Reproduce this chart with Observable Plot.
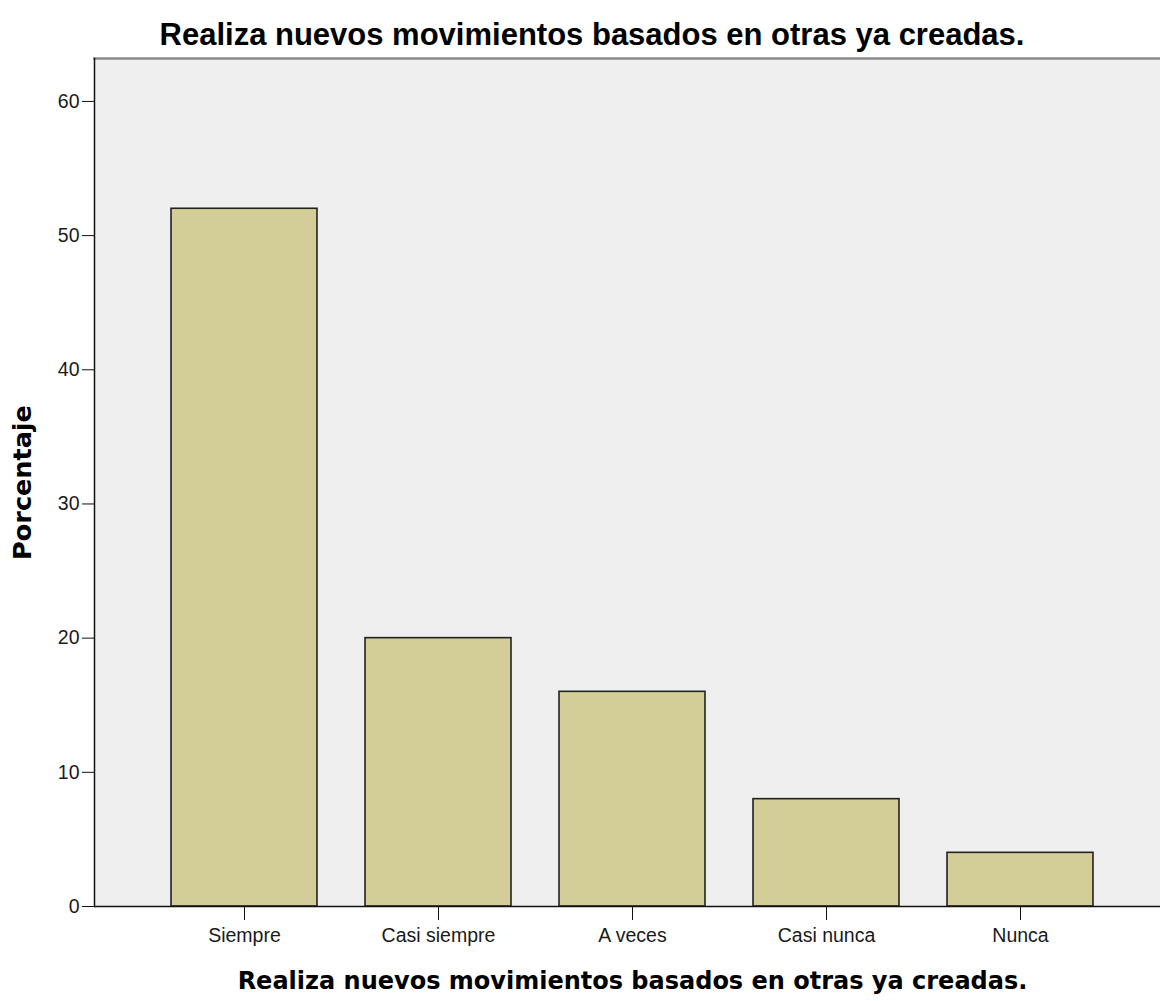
<!DOCTYPE html>
<html>
<head>
<meta charset="utf-8">
<script src="https://cdn.jsdelivr.net/npm/d3@7"></script>
<script src="https://cdn.jsdelivr.net/npm/@observablehq/plot@0.6"></script>
<style>
  html, body { margin: 0; padding: 0; background: #fff; }
  #title {
    height: 56px; width: 1160px; box-sizing: border-box;
    padding-left: 24px; text-align: center;
    font-family: "Liberation Sans", Arial, sans-serif; font-weight: bold;
    font-size: 31px; line-height: 70px; color: #000;
  }
  svg { display: block; }
</style>
</head>
<body>
<div id="title">Realiza nuevos movimientos basados en otras ya creadas.</div>
<div id="chart"></div>
<script>
const categories = ["Siempre", "Casi siempre", "A veces", "Casi nunca", "Nunca"];
const percentages = [52, 20, 16, 8, 4];
const yTicks = [0, 10, 20, 30, 40, 50, 60];
const xLabel = "Realiza nuevos movimientos basados en otras ya creadas.";
const yLabel = "Porcentaje";

const data = categories.map((c, i) => ({cat: c, pct: percentages[i]}));

const chart = Plot.plot({
  width: 1160,
  height: 945,
  marginTop: 2,
  marginBottom: 95,
  marginLeft: 94,
  marginRight: 0,
  style: {fontFamily: "'Liberation Sans', Arial, sans-serif", color: "#1a1a1a", background: "transparent"},
  x: {domain: categories, range: [147, 1117], paddingInner: 0.247, paddingOuter: 0.1235, label: null},
  y: {domain: [0, 63.2], label: null},
  marks: [
    Plot.frame({fill: "#efefef", stroke: null}),
    Plot.frame({anchor: "top", stroke: "#8a8a8a", strokeWidth: 2.5}),
    Plot.barY(data, {x: "cat", y: "pct", fill: "#d3ce97", stroke: "#222", strokeWidth: 1.6}),
    Plot.frame({anchor: "left", stroke: "#111", strokeWidth: 1.5}),
    Plot.ruleY([0], {stroke: "#111", strokeWidth: 1.5}),
    Plot.axisY({ticks: yTicks, tickSize: 12, tickPadding: 3, fontSize: 19.5, label: null, stroke: "#111"}),
    Plot.axisX({tickSize: 14, tickPadding: 8, fontSize: 19.5, label: null, stroke: "#111"}),
    Plot.text([xLabel], {frameAnchor: "bottom", dy: 82, dx: 5, fontSize: 24, fontWeight: "bold", fontFamily: "'DejaVu Sans', Verdana, sans-serif", fill: "#000"}),
    Plot.text([yLabel], {frameAnchor: "left", textAnchor: "middle", dx: -72, rotate: -90, fontSize: 25.5, fontWeight: "bold", fontFamily: "'DejaVu Sans', Verdana, sans-serif", fill: "#000"})
  ]
});
document.getElementById("chart").appendChild(chart);
</script>
</body>
</html>
